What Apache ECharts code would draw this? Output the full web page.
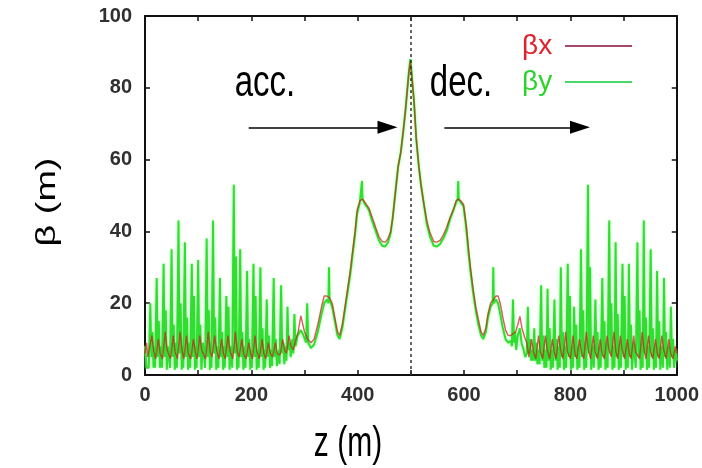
<!DOCTYPE html>
<html>
<head>
<meta charset="utf-8">
<script src="https://cdn.jsdelivr.net/npm/echarts@6/dist/echarts.min.js"></script>
<style>
html,body{margin:0;padding:0;background:#fff;}
#chart{width:702px;height:468px;}
</style>
</head>
<body>
<div id="chart"></div>
<script>
// ---- data (z in m, beta in m) ----
const xTicks = [0, 200, 400, 600, 800, 1000];
const yTicks = [0, 20, 40, 60, 80, 100];

const betaX = [
[0,6],[3,9],[5,5],[8,4.5],[13,11],[16.5,6.5],[20,4.5],[25,10],[28.5,6],[33,4.5],[38,12],[41.5,7],
[48,4.5],[53,11],[56.5,6.5],[61,4.5],[66,12],[69.5,7],[73,4.5],[78,11],[81.5,6],[86,4.5],[91,10],[94.5,6.5],
[98,4.5],[103,11],[106.5,7],[114,4.5],[119,12],[122.5,6.5],[126,5],[131,11],[134.5,7],[139,4.5],[144,10],[147.5,6],
[151,4.5],[156,11],[159.5,7],[165,4.5],[170,12],[173.5,6.5],[177,5],[182,10],[185.5,6],[190,4.5],[195,9],[198.5,6],
[202,4.5],[207,11],[210.5,6.5],[215,4.5],[220,10],[223.5,6],[227,4.5],[232,9],[235.5,6],[240,5],[245,9],[248.5,6],
[254,5.5],[259,10],[262.5,7],[266,6],[271,11],[274.5,8],[279,7],[284,10],
[288,12],[293,16.5],[300,12],[306,10],[312,9],[318,10],[325,14],[332,19],[337,22],[342,22],[347,21.5],[352,20],
[357,16],[362,12],[366,11],[371,14],[376,19],[381,24],[386,29],[390,34],[395,40],[399,46],[404,48.5],[409,49],
[414,48],[421,46.5],[427,44],[434,41],[440,38.5],[446,37.2],[452,37],[457,38],[462,40],[466,44],[471,51],[476,58],
[481,62],[486.5,69],[490,74],[493,79],[496,84],[499,87.5],[502,83],[506,76],[510,66],[515,58],[519,53],[524,48],
[530,43],[536,39.6],[543,37.2],[549,37],[555,37.5],[561,39],[567,41],[574,44],[580,46],[585,48.5],[589,49],[594,48.5],
[599,47.5],[604,42],[608,35.8],[612,30],[617,24],[622,19],[627,15.4],[632,12],[636,11],[641,13],[645,17],[650,20],
[655,21],[660,22],[664,22],[668,20],[673,16],[678,12.5],[683,11],[688,11],[692,11.5],[697,12],[701,14],[705,16.3],
[709,13],[714,10.5],[718,9],
[722,5],[727,10],[730.5,6.5],[735,4.5],[740,11],[743.5,6.5],[748,4.5],[753,11],[756.5,7],[761,4.5],[766,10],[769.5,6.5],
[773,4.5],[778,11],[781.5,7],[786,4.5],[791,12],[794.5,6.5],[800,4.5],[805,11],[808.5,6],[812,4.5],[817,10],[820.5,6.5],
[825,4.5],[830,12],[833.5,7],[838,4.5],[843,11],[846.5,6.5],[851,4.5],[856,10],[859.5,6],[864,4.5],[869,11],[872.5,7],
[877,5],[882,12],[885.5,6.5],[889,4.5],[894,11],[897.5,7],[902,4.5],[907,10],[910.5,6],[914,4.5],[919,11],[922.5,6.5],
[930,4.5],[935,12],[938.5,7],[942,4.5],[947,11],[950.5,6.5],[955,4.5],[960,10],[963.5,6],[967,4.5],[972,11],[975.5,7],
[980,4.5],[985,10],[988.5,6],[993,4.5],[997,8],[1000,6]
];

const betaY = [
[0,8],[3,2],
[7,2],[10,20],[12,5],[14,12],[16,2],[18,8],
[19,2],[22,27],[24,5],[26,15],[28,2],[30,8],
[32,2],[35,31],[37,5],[39,18],[41,1.5],[43,8],
[47,2],[50,35],[52,5],[54,14],[56,1.5],[58,9],
[60,2],[63,43],[65,6],[67,20],[69,1.5],[71,8],
[72,2],[75,37],[77,5],[79,16],[81,1.5],[83,9],
[85,2],[88,31],[90,5],[92,22],[94,1.5],[96,8],
[97,2],[100,32],[102,5],[104,14],[106,1.5],[109,9],
[113,2],[116,38],[118,5],[120,18],[122,1.5],[124,9],
[125,2],[128,43],[130,6],[132,16],[134,1.5],[136,8],
[138,2],[141,27],[143,5],[145,12],[147,1.5],[149,8],
[150,2],[153,22],[155,5],[157,19],[159,1.5],[162,8],
[164,2],[167,53],[169,6],[171,33],[173,1.5],[175,9],
[176,2],[179,35],[181,5],[183,12],[185,1.5],[188,8],
[189,2],[192,29],[194,5],[196,10],[198,1.5],[200,7],
[201,2],[204,31],[206,5],[208,22],[210,1.5],[213,7],
[214,2],[217,30],[219,5],[221,13],[223,1.5],[225,7],
[226,2],[229,21],[231,5],[233,11],[235,2],[238,7],
[239,2.5],[242,27],[244,5],[246,10],[248,2.5],[252,7],
[253,3],[256,25],[258,6],[260,9],[262,3],[265,8],
[266,4],[268,19],[270,7],[272,9],[274,5],[277,10],
[279,6],[281,17],[283,8],[287,11],
[293,12.5],[298,11],[303,9],[305,20],[307,9],[312,7.5],[318,8.5],[325,12],[332,17],[337,20],[342,21],[345,20],
[346,30],[347,21],[352,19],[357,15],[362,11],[366,10],[371,13],[376,18],[381,23],[386,28],[390,33],[395,39],
[399,45],[404,48],[407,48.5],[408,54],[409,49],[414,47.5],[421,46],[427,43],[434,40],[440,37.5],[446,36],[452,35.8],
[457,37],[462,39.5],[466,44],[471,51],[476,58],[481,62],[486.5,69],[490,74],[493,79],[496,84],[499,88],[502,83],
[506,76],[510,66],[515,58],[519,53],[524,48],[530,42],[536,38.5],[543,36],[549,35.8],[555,36.5],[561,38],[567,40],
[574,43.5],[580,46],[585,48],[588,49],[589,54],[590,49],[594,48],[599,47],[604,41],[608,34.5],[612,29],[617,23],
[622,18],[627,14],[632,11],[636,10],[641,12],[645,16],[650,19],[654,20],[655,30],[656,20],[660,21],[664,20],
[668,17],[673,13],[678,10],[683,9],[688,9.5],
[690,8],[692,21],[694,9],[696,12],[698,7],[701,11],[705,13],[708,9],
[712,7],[715,5],[718,6],[720,19],[722,6],[724,10],[726,4],[729,7],
[730,4],[732,13],[734,4],[736,9],[738,3],[741,7],
[742,3],[745,25],[747,4],[749,11],[751,2],[754,7],
[755,2],[757,24],[759,4],[761,13],[763,1.5],[766,7],
[767,2],[770,21],[772,4],[774,10],[776,1.5],[779,8],
[780,2],[782,30],[784,5],[786,12],[788,1.5],[791,8],
[792,2],[795,31],[797,5],[799,22],[801,1.5],[804,8],
[805,2],[807,19],[809,5],[811,14],[813,1.5],[816,8],
[817,2],[820,35],[822,5],[824,18],[826,1.5],[829,9],
[830,2],[833,53],[835,6],[837,30],[839,1.5],[842,8],
[844,2],[847,21],[849,5],[851,12],[853,1.5],[856,8],
[857,2],[860,27],[862,5],[864,15],[866,1.5],[869,9],
[870,2],[873,43],[875,6],[877,20],[879,1.5],[882,8],
[883,2],[885,37],[887,5],[889,17],[891,1.5],[894,9],
[895,2],[898,31],[900,5],[902,22],[904,1.5],[907,8],
[908,2],[910,31],[912,5],[914,14],[916,1.5],[919,9],
[923,2],[926,37],[928,5],[930,18],[932,1.5],[935,9],
[936,2],[938,43],[940,6],[942,16],[944,1.5],[947,8],
[948,2],[951,35],[953,5],[955,13],[957,1.5],[960,8],
[961,2],[963,29],[965,5],[967,15],[969,1.5],[972,8],
[974,2],[976,27],[978,5],[980,12],[982,1.5],[985,8],
[987,2],[989,19],[991,5],[993,10],[995,2],[998,7],[1000,4]
];

// annotation positions in data units
const centerZ = 500;
const arrowY = 69;
const accArrow = [195, 456];
const decArrow = [563, 818];

const FONT = '"Liberation Sans", Arial, Helvetica, sans-serif';
const chart = echarts.init(document.getElementById('chart'), null, {renderer: 'canvas'});

const axisLineStyle = {color: '#111', width: 2};
const tickStyle = {show: true, inside: true, length: 5, lineStyle: {color: '#111', width: 1.5}};
const labelStyle = {fontFamily: FONT, fontSize: 20, color: '#303030', fontWeight: 'bold'};
const option = {
  animation: false,
  backgroundColor: '#ffffff',
  grid: {left: 145, right: 22, top: 16, bottom: 93, containLabel: false},
  legend: {
    orient: 'vertical', right: 65, top: 27, align: 'right',
    icon: 'rect', itemWidth: 67, itemHeight: 2, itemGap: 8,
    formatter: n => n + ' ',
    textStyle: {fontFamily: FONT, fontSize: 28},
    data: [
      {name: 'βx', textStyle: {color: '#e3202c'}, itemStyle: {color: '#a8486e'}},
      {name: 'βy', textStyle: {color: '#2ad42a'}, itemStyle: {color: '#4ad86a'}}
    ]
  },
  xAxis: [
    {type: 'value', min: 0, max: 1000, interval: 100, position: 'bottom',
     axisLine: {show: true, onZero: false, lineStyle: axisLineStyle}, axisTick: tickStyle,
     axisLabel: Object.assign({show: true, margin: 10,
       formatter: v => xTicks.indexOf(v) >= 0 ? String(v) : ''}, labelStyle),
     splitLine: {show: false}},
    {type: 'value', min: 0, max: 1000, interval: 100, position: 'top',
     axisLine: {show: true, onZero: false, lineStyle: axisLineStyle}, axisTick: tickStyle,
     axisLabel: {show: false}, splitLine: {show: false}}
  ],
  yAxis: [
    {type: 'value', min: 0, max: 100, interval: 20, position: 'left',
     axisLine: {show: true, onZero: false, lineStyle: axisLineStyle}, axisTick: tickStyle,
     axisLabel: Object.assign({show: true, margin: 13,
       formatter: v => yTicks.indexOf(v) >= 0 ? String(v) : ''}, labelStyle),
     splitLine: {show: false}},
    {type: 'value', min: 0, max: 100, interval: 20, position: 'right',
     axisLine: {show: true, onZero: false, lineStyle: axisLineStyle}, axisTick: tickStyle,
     axisLabel: {show: false}, splitLine: {show: false}}
  ],
  series: [
    {name: 'βx', type: 'line', data: betaX, showSymbol: false, symbol: 'none',
     lineStyle: {color: '#c8221c', width: 1.4, opacity: 0.72}, itemStyle: {color: '#c8221c'}, z: 4,
     markLine: {
       silent: true, animation: false, label: {show: false},
       symbol: ['none', 'triangle'], symbolSize: [13, 20],
       lineStyle: {color: '#000', width: 1.5, type: 'solid', opacity: 1},
       data: [
         [{coord: [accArrow[0], arrowY]}, {coord: [accArrow[1], arrowY]}],
         [{coord: [decArrow[0], arrowY]}, {coord: [decArrow[1], arrowY]}]
       ]
     }},
    {name: 'βy', type: 'line', data: betaY, showSymbol: false, symbol: 'none',
     lineStyle: {color: '#30de30', width: 2, shadowColor: 'rgba(150,255,150,0.9)', shadowBlur: 3},
     itemStyle: {color: '#30de30'}, z: 3,
     markLine: {
       silent: true, animation: false, label: {show: false},
       symbol: ['none', 'none'],
       lineStyle: {color: '#333', width: 1.5, type: [3, 3]},
       data: [{xAxis: centerZ}]
     }}
  ],
  graphic: [
    {type: 'text', x: 265, y: 84, scaleY: 1.35,
     style: {text: 'acc.', fontFamily: FONT, fontSize: 33, fill: '#000', textAlign: 'center', textVerticalAlign: 'middle'}},
    {type: 'text', x: 461, y: 84, scaleY: 1.35,
     style: {text: 'dec.', fontFamily: FONT, fontSize: 33, fill: '#000', textAlign: 'center', textVerticalAlign: 'middle'}},
    {type: 'text', x: 348, y: 444, scaleY: 1.4,
     style: {text: 'z (m)', fontFamily: FONT, fontSize: 30, fill: '#000', textAlign: 'center', textVerticalAlign: 'middle'}},
    {type: 'text', x: 47, y: 202, rotation: Math.PI / 2, scaleX: 1.35,
     style: {text: 'β (m)', fontFamily: FONT, fontSize: 28, fill: '#000', textAlign: 'center', textVerticalAlign: 'middle'}}
  ]
};
chart.setOption(option);
</script>
</body>
</html>
